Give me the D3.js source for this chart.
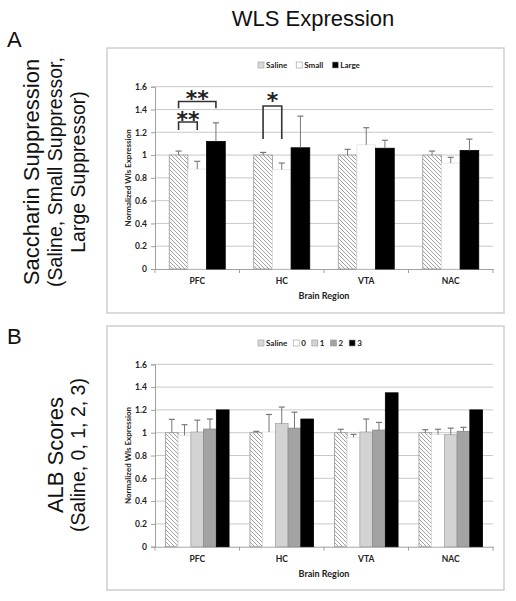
<!DOCTYPE html>
<html>
<head>
<meta charset="utf-8">
<script src="https://cdn.jsdelivr.net/npm/d3@7"></script>
<style>
  html, body { margin: 0; padding: 0; background: #fff; }
  svg { display: block; }
</style>
</head>
<body>
<div id="chart"></div>
<script>
// ---------------- DATA ----------------
const categories = ["PFC", "HC", "VTA", "NAC"];
const yTicks = [0, 0.2, 0.4, 0.6, 0.8, 1, 1.2, 1.4, 1.6];

// Panel A: Saccharin suppression
const seriesA = ["Saline", "Small", "Large"];
const salineA = [1.0, 1.0, 1.0, 1.0];
const salineAErr = [0.035, 0.023, 0.05, 0.035];
const smallA = [0.877, 0.871, 1.09, 0.93];
const smallAErr = [0.068, 0.059, 0.15, 0.05];
const largeA = [1.12, 1.064, 1.06, 1.04];
const largeAErr = [0.163, 0.278, 0.07, 0.10];

// significance brackets (panel A)
const sigCats = ["PFC", "PFC", "HC"];
const sigFrom = ["Saline", "Saline", "Saline"];
const sigTo = ["Small", "Large", "Small"];
const sigTop = [1.29, 1.47, 1.43];
const sigLeg = [1.22, 1.41, 1.14];
const sigLabel = ["**", "**", "*"];
const sigLabelY = [1.355, 1.54, 1.525];

// Panel B: ALB scores
const seriesB = ["Saline", "0", "1", "2", "3"];
const salineB = [1.0, 1.0, 1.0, 1.0];
const salineBErr = [0.117, 0.012, 0.03, 0.026];
const score0B = [0.977, 1.006, 0.96, 0.983];
const score0BErr = [0.093, 0.154, 0.025, 0.047];
const score1B = [1.006, 1.08, 1.006, 0.983];
const score1BErr = [0.104, 0.145, 0.114, 0.057];
const score2B = [1.032, 1.04, 1.023, 1.012];
const score2BErr = [0.088, 0.14, 0.067, 0.035];
const score3B = [1.2, 1.12, 1.35, 1.2];
const score3BErr = [0, 0, 0, 0];

// ---------------- SETUP ----------------
const W = 516, H = 601;
const svg = d3.select("#chart").append("svg").attr("width", W).attr("height", H);

const defs = svg.append("defs");
const pat = defs.append("pattern").attr("id", "hatch").attr("patternUnits", "userSpaceOnUse")
  .attr("width", 4).attr("height", 4);
pat.append("rect").attr("width", 4).attr("height", 4).attr("fill", "#fbfbfb");
pat.append("path").attr("d", "M-1,-1 L5,5 M-1,3 L1,5 M3,-1 L5,1")
  .attr("stroke", "#8c8c8c").attr("stroke-width", 0.8);

const styleMap = {
  "Saline": { fill: "url(#hatch)", stroke: "#9a9a9a", legendFill: "#d8d8d8" },
  "Small":  { fill: "#ffffff", stroke: "#e2e2e2", legendFill: "#ffffff" },
  "Large":  { fill: "#000000", stroke: "#000000", legendFill: "#000000" },
  "0":      { fill: "#ffffff", stroke: "#e2e2e2", legendFill: "#ffffff" },
  "1":      { fill: "#d3d3d3", stroke: "#a8a8a8", legendFill: "#d3d3d3" },
  "2":      { fill: "#a3a3a3", stroke: "#8a8a8a", legendFill: "#a3a3a3" },
  "3":      { fill: "#000000", stroke: "#000000", legendFill: "#000000" }
};

const chartFont = "Lato, 'Open Sans', sans-serif";
const sideFont = "'Liberation Sans', Arial, sans-serif";

// Main title
svg.append("text").attr("x", 313).attr("y", 26).attr("text-anchor", "middle")
  .attr("font-family", sideFont).attr("font-size", 22).attr("fill", "#111")
  .text("WLS Expression");

function drawPanel(opts) {
  const { box, yRange, series, values, errs, innerPad, legendY, legendItems } = opts;
  const g = svg.append("g");
  // panel border
  g.append("rect").attr("x", box[0]).attr("y", box[1])
    .attr("width", box[2] - box[0]).attr("height", box[3] - box[1])
    .attr("fill", "#fff").attr("stroke", "#cfcfcf").attr("stroke-width", 1.5);

  const x0 = d3.scaleBand().domain(categories).range([155, 493])
    .paddingInner(innerPad).paddingOuter(innerPad / 2);
  const x1 = d3.scaleBand().domain(series).range([0, x0.bandwidth()]);
  const y = d3.scaleLinear().domain([0, 1.6]).range(yRange);

  // gridlines
  g.append("g").selectAll("line").data(yTicks.filter(d => d > 0)).join("line")
    .attr("x1", 155).attr("x2", 493)
    .attr("y1", d => y(d)).attr("y2", d => y(d))
    .attr("stroke", "#c9c9c9").attr("stroke-width", 1);

  // y axis
  const yAxis = d3.axisLeft(y).tickValues(yTicks).tickSize(4).tickPadding(4)
    .tickFormat(d => d3.format("")(+d.toFixed(1)));
  const ya = g.append("g").attr("transform", "translate(155,0)").call(yAxis);
  ya.select(".domain").attr("stroke", "#a0a0a0");
  ya.selectAll(".tick line").attr("stroke", "#a0a0a0");
  ya.selectAll("text").attr("font-family", chartFont).attr("font-weight", "bold")
    .attr("font-size", 8.5).attr("fill", "#222");

  // x axis
  const xAxis = d3.axisBottom(x0).tickSize(0).tickPadding(9);
  const xa = g.append("g").attr("transform", `translate(0,${yRange[0]})`).call(xAxis);
  xa.select(".domain").attr("stroke", "#a0a0a0");
  xa.selectAll("text").attr("font-family", chartFont).attr("font-weight", "bold")
    .attr("font-size", 8.5).attr("fill", "#222");
  // category separator ticks
  const sepX = categories.map(c => x0(c) - x0.step() * innerPad / 2).concat([493]);
  xa.append("g").selectAll("line").data(sepX).join("line")
    .attr("x1", d => d).attr("x2", d => d).attr("y1", 0).attr("y2", 4)
    .attr("stroke", "#a0a0a0");

  // bars
  series.forEach((s, si) => {
    const st = styleMap[s];
    const bg = g.append("g");
    bg.selectAll("rect").data(categories).join("rect")
      .attr("x", c => x0(c) + x1(s))
      .attr("y", (c, i) => y(values[si][i]))
      .attr("width", x1.bandwidth())
      .attr("height", (c, i) => y(0) - y(values[si][i]))
      .attr("fill", st.fill).attr("stroke", st.stroke).attr("stroke-width", 0.8);
    // error bars
    const eg = g.append("g");
    categories.forEach((c, i) => {
      const e = errs[si][i];
      if (!e) return;
      const cx = x0(c) + x1(s) + x1.bandwidth() / 2;
      const yTop = y(values[si][i] + e), yBase = y(values[si][i]);
      eg.append("line").attr("x1", cx).attr("x2", cx).attr("y1", yBase).attr("y2", yTop)
        .attr("stroke", "#777").attr("stroke-width", 1);
      eg.append("line").attr("x1", cx - 3).attr("x2", cx + 3).attr("y1", yTop).attr("y2", yTop)
        .attr("stroke", "#777").attr("stroke-width", 1.2);
    });
  });

  // axis titles
  const midY = (yRange[0] + yRange[1]) / 2;
  g.append("text").attr("transform", `translate(131,${midY}) rotate(-90)`)
    .attr("text-anchor", "middle").attr("font-family", chartFont).attr("font-weight", "bold")
    .attr("font-size", 8).attr("fill", "#222").text("Normalized Wls Expression");
  g.append("text").attr("x", 324).attr("y", yRange[0] + 30).attr("text-anchor", "middle")
    .attr("font-family", chartFont).attr("font-weight", "bold")
    .attr("font-size", 9).attr("fill", "#222").text("Brain Region");

  // legend
  const lg = g.append("g");
  let lx = 258;
  legendItems.forEach((s, i) => {
    const st = styleMap[s];
    lg.append("rect").attr("x", lx).attr("y", legendY - 3.5).attr("width", 6).attr("height", 6)
      .attr("fill", st.legendFill).attr("stroke", "#999").attr("stroke-width", 0.6);
    const t = lg.append("text").attr("x", lx + 8).attr("y", legendY + 2.8)
      .attr("font-family", chartFont).attr("font-weight", "bold")
      .attr("font-size", 8).attr("fill", "#222").text(s);
    const w = t.node().getComputedTextLength();
    lx += 8 + w + opts.legendGap;
  });

  return { g, x0, x1, y };
}

const A = drawPanel({
  box: [107, 48, 504, 313], yRange: [269, 86.7], series: seriesA,
  values: [salineA, smallA, largeA], errs: [salineAErr, smallAErr, largeAErr],
  innerPad: 0.337, legendY: 65.5, legendItems: seriesA, legendGap: 9
});

// significance brackets
sigCats.forEach((c, i) => {
  const xa = A.x0(c) + A.x1(sigFrom[i]) + A.x1.bandwidth() / 2;
  const xb = A.x0(c) + A.x1(sigTo[i]) + A.x1.bandwidth() / 2;
  const yt = A.y(sigTop[i]), yl = A.y(sigLeg[i]);
  A.g.append("path").attr("d", `M${xa},${yl} L${xa},${yt} L${xb},${yt} L${xb},${yl}`)
    .attr("fill", "none").attr("stroke", "#333").attr("stroke-width", 1.6);
  const fs = 22;
  A.g.append("text").attr("x", (xa + xb) / 2).attr("y", A.y(sigLabelY[i]) + 0.56 * fs)
    .attr("text-anchor", "middle").attr("font-family", "'DejaVu Sans', sans-serif")
    .attr("font-weight", "bold")
    .attr("font-size", fs).attr("fill", "#222").text(sigLabel[i]);
});

drawPanel({
  box: [107, 326, 504, 590], yRange: [546.7, 364.3], series: seriesB,
  values: [salineB, score0B, score1B, score2B, score3B],
  errs: [salineBErr, score0BErr, score1BErr, score2BErr, score3BErr],
  innerPad: 0.247, legendY: 343.5, legendItems: seriesB, legendGap: 6
});

// Side labels
svg.append("text").attr("x", 7).attr("y", 47).attr("font-family", sideFont)
  .attr("font-size", 22).attr("fill", "#111").text("A");
svg.append("text").attr("x", 7).attr("y", 344).attr("font-family", sideFont)
  .attr("font-size", 22).attr("fill", "#111").text("B");

function sideLabel(lines, sizes, xs, cy) {
  lines.forEach((t, i) => {
    svg.append("text").attr("transform", `translate(${xs[i] + sizes[i] * 0.36},${cy}) rotate(-90)`)
      .attr("text-anchor", "middle").attr("font-family", sideFont)
      .attr("font-size", sizes[i]).attr("fill", "#111").text(t);
  });
}
sideLabel(["Saccharin Suppression", "(Saline, Small Suppressor,", "Large Suppressor)"],
  [22, 19.5, 19.5], [31, 55, 78], 172);
sideLabel(["ALB Scores", "(Saline, 0, 1, 2, 3)"], [22, 19.5], [55, 78], 455);
</script>
</body>
</html>
